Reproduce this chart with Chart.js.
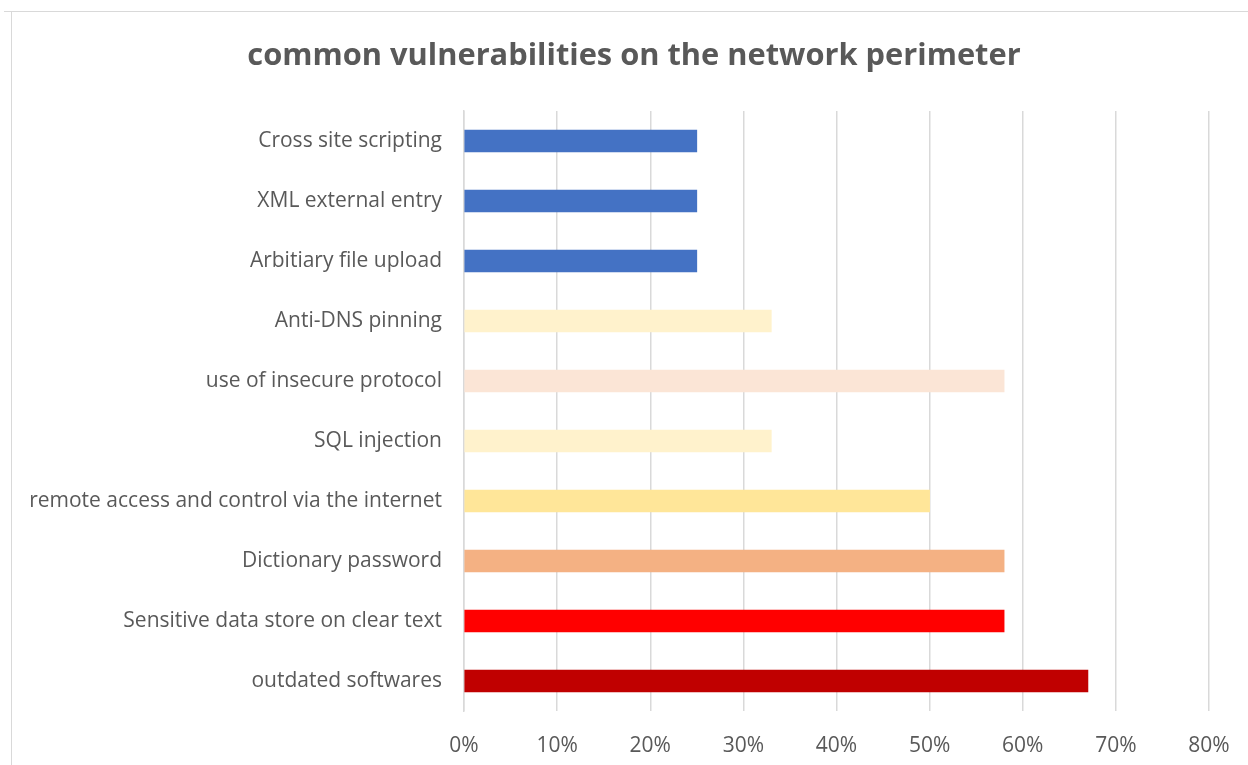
<!DOCTYPE html>
<html>
<head>
<meta charset="utf-8">
<script src="https://cdn.jsdelivr.net/npm/chart.js"></script>
<style>
  html, body { margin: 0; padding: 0; background: #fff; }
  #wrap { width: 1248px; height: 765px; position: relative; }
</style>
</head>
<body>
<div id="wrap"><canvas id="vulnChart" width="1248" height="765"></canvas></div>
<script>
// vulnerabilities, listed top to bottom
const categories = [
    'Cross site scripting',
    'XML external entry',
    'Arbitiary file upload',
    'Anti-DNS pinning',
    'use of insecure protocol',
    'SQL injection',
    'remote access and control via the internet',
    'Dictionary password',
    'Sensitive data store on clear text',
    'outdated softwares'
];
// share of perimeters affected, in percent
const shares = [25, 25, 25, 33, 58, 33, 50, 58, 58, 67];
const barColors = [
    '#4472C4', '#4472C4', '#4472C4',
    '#FFF2CC', '#FBE5D6', '#FFF2CC',
    '#FFE699', '#F4B183', '#FF0000', '#C00000'
];
const xTicks = [0, 10, 20, 30, 40, 50, 60, 70, 80];
const chartTitle = 'common vulnerabilities on the network perimeter';

const textGray = '#595959';
const gridGray = '#D9D9D9';
const fontFamily = '"Open Sans", sans-serif';

// outer frame of the chart box plus the title, centred on the whole box
const frame = {
    id: 'frame',
    beforeDraw(chart) {
        const ctx = chart.ctx;
        ctx.save();
        ctx.strokeStyle = gridGray;
        ctx.lineWidth = 1;
        ctx.beginPath();
        ctx.moveTo(4, 11.5);
        ctx.lineTo(chart.width, 11.5);
        ctx.moveTo(11.5, 11);
        ctx.lineTo(11.5, chart.height);
        ctx.stroke();

        ctx.fillStyle = textGray;
        ctx.font = 'bold 30.8px ' + fontFamily;
        ctx.textAlign = 'center';
        ctx.textBaseline = 'middle';
        ctx.fillText(chartTitle, 634, 56);
        ctx.restore();
    }
};

new Chart(document.getElementById('vulnChart'), {
    type: 'bar',
    data: {
        labels: categories,
        datasets: [{
            data: shares,
            backgroundColor: barColors,
            borderWidth: 0,
            barThickness: 22
        }]
    },
    options: {
        indexAxis: 'y',
        responsive: false,
        animation: false,
        layout: { padding: { top: 111, left: 12, right: 39, bottom: 0 } },
        plugins: {
            legend: { display: false },
            tooltip: { enabled: false },
            title: { display: false }
        },
        scales: {
            x: {
                min: 0,
                max: 80,
                afterBuildTicks(axis) {
                    axis.ticks = xTicks.map(v => ({ value: v }));
                },
                afterFit(axis) {
                    axis.height = 54;
                    axis.paddingLeft = 0;
                    axis.paddingRight = 0;
                },
                ticks: {
                    color: textGray,
                    font: { family: fontFamily, size: 21 },
                    padding: 22,
                    callback: v => v + '%'
                },
                grid: { color: gridGray, lineWidth: 1.5, drawTicks: false },
                border: { display: false }
            },
            y: {
                afterFit(axis) { axis.width = 452; },
                ticks: {
                    color: textGray,
                    font: { family: fontFamily, size: 21 },
                    padding: 22
                },
                grid: { display: false, drawTicks: false },
                border: { color: gridGray, width: 1.5 }
            }
        }
    },
    plugins: [frame]
});
</script>
</body>
</html>
